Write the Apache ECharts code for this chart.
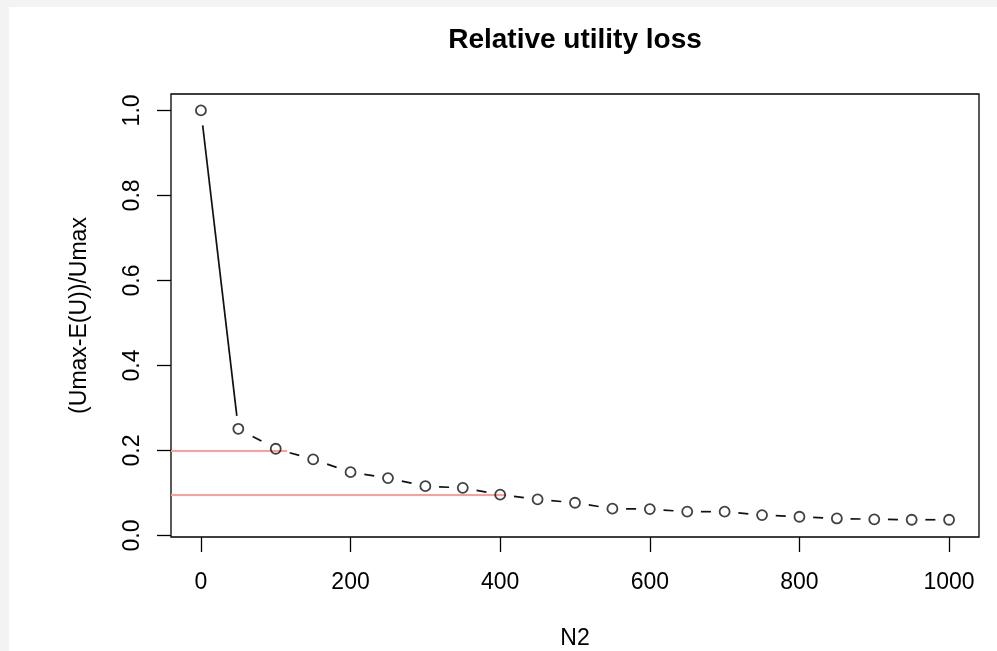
<!DOCTYPE html>
<html>
<head>
<meta charset="utf-8">
<script src="https://cdn.jsdelivr.net/npm/echarts@6/dist/echarts.min.js"></script>
<style>
html,body{margin:0;padding:0;background:#f3f3f3;}
#chart{position:absolute;left:0;top:0;width:997px;height:651px;}
</style>
</head>
<body>
<div id="chart"></div>
<script>
// ---- data ----
const N2 = [0, 50, 100, 150, 200, 250, 300, 350, 400, 450, 500, 550, 600, 650, 700, 750, 800, 850, 900, 950, 1000];
const lossValues = [1.0, 0.251, 0.204, 0.179, 0.149, 0.135, 0.116, 0.112, 0.096, 0.085, 0.077, 0.063, 0.062, 0.056, 0.056, 0.048, 0.044, 0.040, 0.038, 0.037, 0.037];
const xTicks = [0, 200, 400, 600, 800, 1000];
const yTicks = [0, 0.2, 0.4, 0.6, 0.8, 1.0];
const refLevels = [0.2, 0.0965];
const refEnds = [115, 408];
const xRange = [-40, 1040];
const yRange = [-0.0036, 1.0386];

const chart = echarts.init(document.getElementById('chart'), null, {renderer: 'canvas'});
const FONT = '"Liberation Sans", Arial, Helvetica, sans-serif';

const segData = N2.slice(0, -1).map((x, i) => [x, lossValues[i], N2[i + 1], lossValues[i + 1], i]);

const refLineData = refLevels.map((y, i) => [[xRange[0], y], [refEnds[i], y]]);

const option = {
  backgroundColor: 'transparent',
  animation: false,
  graphic: [
    {type: 'rect', left: 9, top: 7, z: -10, shape: {width: 988, height: 644}, style: {fill: '#ffffff'}, silent: true}
  ],
  title: {
    text: 'Relative utility loss',
    left: 570,
    top: 21,
    textAlign: 'center',
    textStyle: {fontFamily: FONT, fontSize: 28, fontWeight: 'bold', color: '#000'}
  },
  grid: {
    left: 171, right: 18, top: 94, bottom: 114,
    outerBoundsMode: 'none',
    containLabel: false,
    show: true, borderColor: '#000', borderWidth: 1.3, backgroundColor: 'transparent'
  },
  xAxis: {
    type: 'value',
    min: xRange[0], max: xRange[1],
    name: 'N2',
    nameLocation: 'middle',
    nameGap: 90,
    nameMoveOverlap: false,
    nameTextStyle: {fontFamily: FONT, fontSize: 23, color: '#000'},
    axisLine: {show: false, onZero: false},
    splitLine: {show: false},
    axisTick: {show: true, inside: false, length: 15, customValues: xTicks, lineStyle: {color: '#000', width: 1.3}},
    axisLabel: {customValues: xTicks, margin: 34, fontFamily: FONT, fontSize: 23, color: '#000', formatter: v => String(v)}
  },
  yAxis: {
    type: 'value',
    min: yRange[0], max: yRange[1],
    name: '(Umax-E(U))/Umax',
    nameLocation: 'middle',
    nameRotate: 90,
    nameGap: 80,
    nameMoveOverlap: false,
    nameTextStyle: {fontFamily: FONT, fontSize: 23, color: '#000'},
    axisLine: {show: false, onZero: false},
    splitLine: {show: false},
    axisTick: {show: true, inside: false, length: 14, customValues: yTicks, lineStyle: {color: '#000', width: 1.3}},
    axisLabel: {
      customValues: yTicks, rotate: 90, margin: 27,
      fontFamily: FONT, fontSize: 23, color: '#000',
      formatter: v => v.toFixed(1)
    }
  },
  series: [
    {
      type: 'lines',
      coordinateSystem: 'cartesian2d',
      polyline: false,
      z: 1,
      silent: true,
      lineStyle: {color: '#ff9c9c', width: 2, opacity: 1},
      data: refLineData.map(c => ({coords: c}))
    },
    {
      type: 'custom',
      z: 2,
      silent: true,
      encode: {x: [0, 2], y: [1, 3]},
      data: segData,
      renderItem: function (params, api) {
        const p0 = api.coord([api.value(0), api.value(1)]);
        const p1 = api.coord([api.value(2), api.value(3)]);
        const idx = api.value(4);
        const dx = p1[0] - p0[0], dy = p1[1] - p0[1];
        const L = Math.hypot(dx, dy);
        const ux = dx / L, uy = dy / L;
        let a, b;
        if (idx === 0) {
          a = 15; b = L - 13;
        } else {
          const m = L / 2;
          a = m - 5; b = m + 5;
        }
        return {
          type: 'line',
          shape: {x1: p0[0] + ux * a, y1: p0[1] + uy * a, x2: p0[0] + ux * b, y2: p0[1] + uy * b},
          style: {stroke: '#111', lineWidth: 1.7}
        };
      }
    },
    {
      type: 'scatter',
      z: 3,
      symbol: 'circle',
      symbolSize: 10,
      itemStyle: {color: 'transparent', borderColor: '#111', borderWidth: 1.8},
      data: N2.map((x, i) => [x, lossValues[i]])
    }
  ]
};
chart.setOption(option);
</script>
</body>
</html>
